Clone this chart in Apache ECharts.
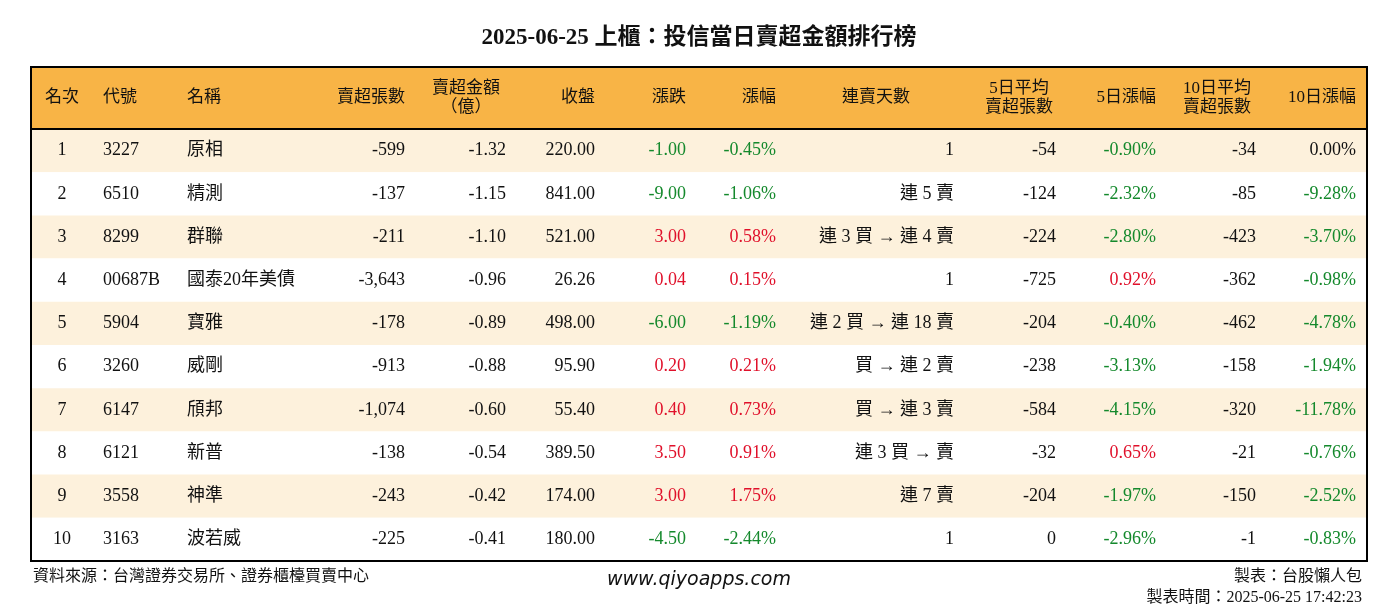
<!DOCTYPE html>
<html><head><meta charset="utf-8">
<script src="https://cdn.jsdelivr.net/npm/echarts@6/dist/echarts.min.js"></script>
<style>html,body{margin:0;padding:0;background:#fff}#c{width:1398px;height:612px}</style>
</head><body><div id="c"></div>
<script>
const title = "2025-06-25 上櫃：投信當日賣超金額排行榜";
const headers = ["名次", "代號", "名稱", "賣超張數", "賣超金額\n（億）", "收盤", "漲跌", "漲幅", "連賣天數", "5日平均\n賣超張數", "5日漲幅", "10日平均\n賣超張數", "10日漲幅"];
const ranks = [1, 2, 3, 4, 5, 6, 7, 8, 9, 10];
const codes = ["3227", "6510", "8299", "00687B", "5904", "3260", "6147", "6121", "3558", "3163"];
const names = ["原相", "精測", "群聯", "國泰20年美債", "寶雅", "威剛", "頎邦", "新普", "神準", "波若威"];
const sellLots = [-599, -137, -211, -3643, -178, -913, -1074, -138, -243, -225];
const sellAmount = [-1.32, -1.15, -1.10, -0.96, -0.89, -0.88, -0.60, -0.54, -0.42, -0.41];
const closes = [220.00, 841.00, 521.00, 26.26, 498.00, 95.90, 55.40, 389.50, 174.00, 180.00];
const changes = [-1.00, -9.00, 3.00, 0.04, -6.00, 0.20, 0.40, 3.50, 3.00, -4.50];
const changePct = [-0.45, -1.06, 0.58, 0.15, -1.19, 0.21, 0.73, 0.91, 1.75, -2.44];
const streaks = ["1", "連 5 賣", "連 3 買 → 連 4 賣", "1", "連 2 買 → 連 18 賣", "買 → 連 2 賣", "買 → 連 3 賣", "連 3 買 → 賣", "連 7 賣", "1"];
const avg5 = [-54, -124, -224, -725, -204, -238, -584, -32, -204, 0];
const pct5 = [-0.90, -2.32, -2.80, 0.92, -0.40, -3.13, -4.15, 0.65, -1.97, -2.96];
const avg10 = [-34, -85, -423, -362, -462, -158, -320, -21, -150, -1];
const pct10 = [0.00, -9.28, -3.70, -0.98, -4.78, -1.94, -11.78, -0.76, -2.52, -0.83];
const source = "資料來源：台灣證券交易所、證券櫃檯買賣中心";
const site = "www.qiyoapps.com";
const maker = "製表：台股懶人包";
const madeAt = "製表時間：2025-06-25 17:42:23";

const FONT = '"Liberation Serif", "Noto Sans CJK TC", serif';
const GREEN = '#14892c', RED = '#e0102a', BLACK = '#111';
const fmtInt = v => v.toLocaleString('en-US');
const colorOf = v => v > 0 ? RED : v < 0 ? GREEN : BLACK;

// column anchor x and alignment
const cols = [
  {x: 62, a: 'center'}, {x: 103, a: 'left'}, {x: 187, a: 'left'},
  {x: 405, a: 'right'}, {x: 506, a: 'right'}, {x: 595, a: 'right'},
  {x: 686, a: 'right'}, {x: 776, a: 'right'}, {x: 954, a: 'right'},
  {x: 1056, a: 'right'}, {x: 1156, a: 'right'}, {x: 1256, a: 'right'}, {x: 1356, a: 'right'}
];
const headerCols = [
  {x: 62, a: 'center'}, {x: 103, a: 'left'}, {x: 187, a: 'left'},
  {x: 405, a: 'right'}, {x: 466, a: 'center'}, {x: 595, a: 'right'},
  {x: 686, a: 'right'}, {x: 776, a: 'right'}, {x: 876, a: 'center'},
  {x: 1019, a: 'center'}, {x: 1156, a: 'right'}, {x: 1217, a: 'center'}, {x: 1356, a: 'right'}
];

const L = 31, R = 1367, HT = 67, HB = 129, RH = 43.2;
const g = [];
g.push({type: 'text', left: 'center', top: 27, style: {text: title, font: 'bold 23px ' + FONT, fill: BLACK}});
g.push({type: 'rect', shape: {x: L, y: HT, width: R - L, height: HB - HT}, style: {fill: '#f8b446'}});
ranks.forEach((r, i) => {
  g.push({type: 'rect', shape: {x: L, y: HB + i * RH, width: R - L, height: RH},
    style: {fill: i % 2 === 0 ? '#fdf1dc' : '#ffffff'}});
});
headers.forEach((h, j) => {
  g.push({type: 'text', x: headerCols[j].x, y: 98, style: {text: h, font: '17px ' + FONT, fill: BLACK,
    align: headerCols[j].a, verticalAlign: 'middle', lineHeight: 19}});
});
ranks.forEach((r, i) => {
  const cells = [
    [String(r), BLACK], [codes[i], BLACK], [names[i], BLACK],
    [fmtInt(sellLots[i]), BLACK], [sellAmount[i].toFixed(2), BLACK], [closes[i].toFixed(2), BLACK],
    [changes[i].toFixed(2), colorOf(changes[i])], [changePct[i].toFixed(2) + '%', colorOf(changePct[i])],
    [streaks[i], BLACK], [fmtInt(avg5[i]), BLACK], [pct5[i].toFixed(2) + '%', colorOf(pct5[i])],
    [fmtInt(avg10[i]), BLACK], [pct10[i].toFixed(2) + '%', colorOf(pct10[i])]
  ];
  const y = HB + i * RH + RH / 2;
  cells.forEach((c, j) => {
    g.push({type: 'text', x: cols[j].x, y: y, style: {text: c[0], font: '18px ' + FONT, fill: c[1],
      align: cols[j].a, verticalAlign: 'middle'}});
  });
});
g.push({type: 'line', shape: {x1: L, y1: HB, x2: R, y2: HB}, style: {stroke: '#000', lineWidth: 2}});
g.push({type: 'rect', shape: {x: L, y: HT, width: R - L, height: HB + 10 * RH - HT}, style: {fill: 'none', stroke: '#000', lineWidth: 2}});
g.push({type: 'text', x: 33, y: 577, style: {text: source, font: '16px ' + FONT, fill: BLACK, verticalAlign: 'middle'}});
g.push({type: 'text', x: 699, y: 580, style: {text: site, font: 'italic 19px "DejaVu Sans", sans-serif', fill: BLACK, align: 'center', verticalAlign: 'middle'}});
g.push({type: 'text', x: 1362, y: 577, style: {text: maker, font: '16px ' + FONT, fill: BLACK, align: 'right', verticalAlign: 'middle'}});
g.push({type: 'text', x: 1362, y: 598, style: {text: madeAt, font: '16px ' + FONT, fill: BLACK, align: 'right', verticalAlign: 'middle'}});

const chart = echarts.init(document.getElementById('c'));
chart.setOption({animation: false, backgroundColor: '#fff', graphic: g});
</script></body></html>
